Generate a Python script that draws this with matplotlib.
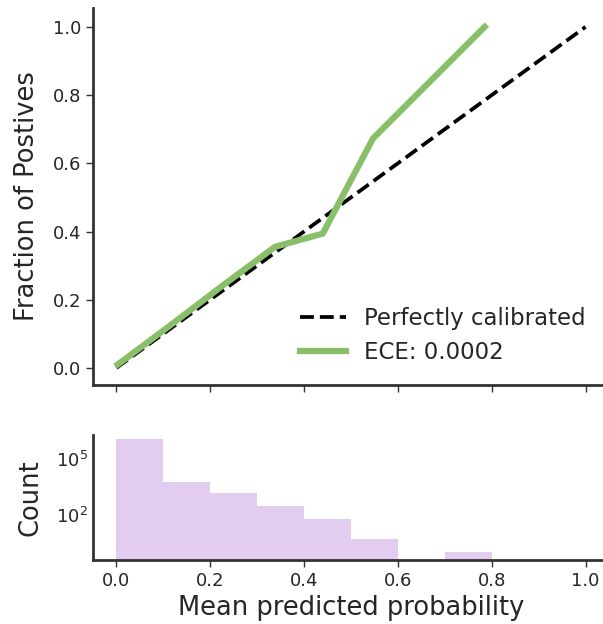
import numpy as np
import matplotlib.pyplot as plt

# calibration curve (mean predicted prob, fraction of positives)
mean_pred = [0.003, 0.12, 0.23, 0.338, 0.44, 0.547, 0.785]
frac_pos = [0.01, 0.13, 0.245, 0.355, 0.394, 0.673, 1.0]
ece_label = 'ECE: 0.0002'

# histogram of predictions (counts per 0.1 bin)
bin_edges = [0.0, 0.1, 0.2, 0.3, 0.4, 0.5, 0.6, 0.7, 0.8, 0.9, 1.0]
bin_counts = [1.2e6, 6200, 1600, 300, 60, 5, 0, 1, 0, 0]

green = '#8abf69'
purple = '#e2ccf0'
dark = '#262626'

plt.rcParams['text.color'] = dark
plt.rcParams['axes.labelcolor'] = dark
plt.rcParams['xtick.color'] = dark
plt.rcParams['ytick.color'] = dark

fig = plt.figure(figsize=(6.03, 6.24), dpi=100)
ax1 = fig.add_axes([0.154, 0.383, 0.856, 0.604])
ax2 = fig.add_axes([0.154, 0.1026, 0.856, 0.2])

# top: reliability diagram
ax1.plot([0, 1], [0, 1], '--', color='black', lw=2.7, label='Perfectly calibrated')
ax1.plot(mean_pred, frac_pos, '-', color=green, lw=4.5, label=ece_label)
ax1.set_xlim(-0.05, 1.05)
ax1.set_ylim(-0.05, 1.055)
ax1.set_yticks([0.0, 0.2, 0.4, 0.6, 0.8, 1.0])
ax1.set_xticks([0.0, 0.2, 0.4, 0.6, 0.8, 1.0])
ax1.set_xticklabels([])
ax1.set_ylabel('Fraction of Postives', fontsize=18.5, labelpad=9)
ax1.legend(loc='lower right', frameon=False, fontsize=16.5, handlelength=2.0,
           bbox_to_anchor=(0.995, 0.0))

# bottom: histogram
ax2.hist(bin_edges[:-1], bins=bin_edges, weights=bin_counts, color=purple, log=True)
ax2.set_xlim(-0.05, 1.05)
ax2.set_ylim(0.38, 2e6)
ax2.set_yticks([1e2, 1e5])
ax2.minorticks_off()
ax2.set_xticks([0.0, 0.2, 0.4, 0.6, 0.8, 1.0])
ax2.set_xlabel('Mean predicted probability', fontsize=18.5)
ax2.set_ylabel('Count', fontsize=18.5, labelpad=9)

for ax in (ax1, ax2):
    ax.spines['top'].set_visible(False)
    ax.spines['right'].set_visible(False)
    for s in ('left', 'bottom'):
        ax.spines[s].set_linewidth(2)
        ax.spines[s].set_color('#333333')
    ax.tick_params(labelsize=13, color='#333333', width=1, length=5)
ax2.tick_params(axis='y', length=0)

fig.savefig('out.png', dpi=100)
